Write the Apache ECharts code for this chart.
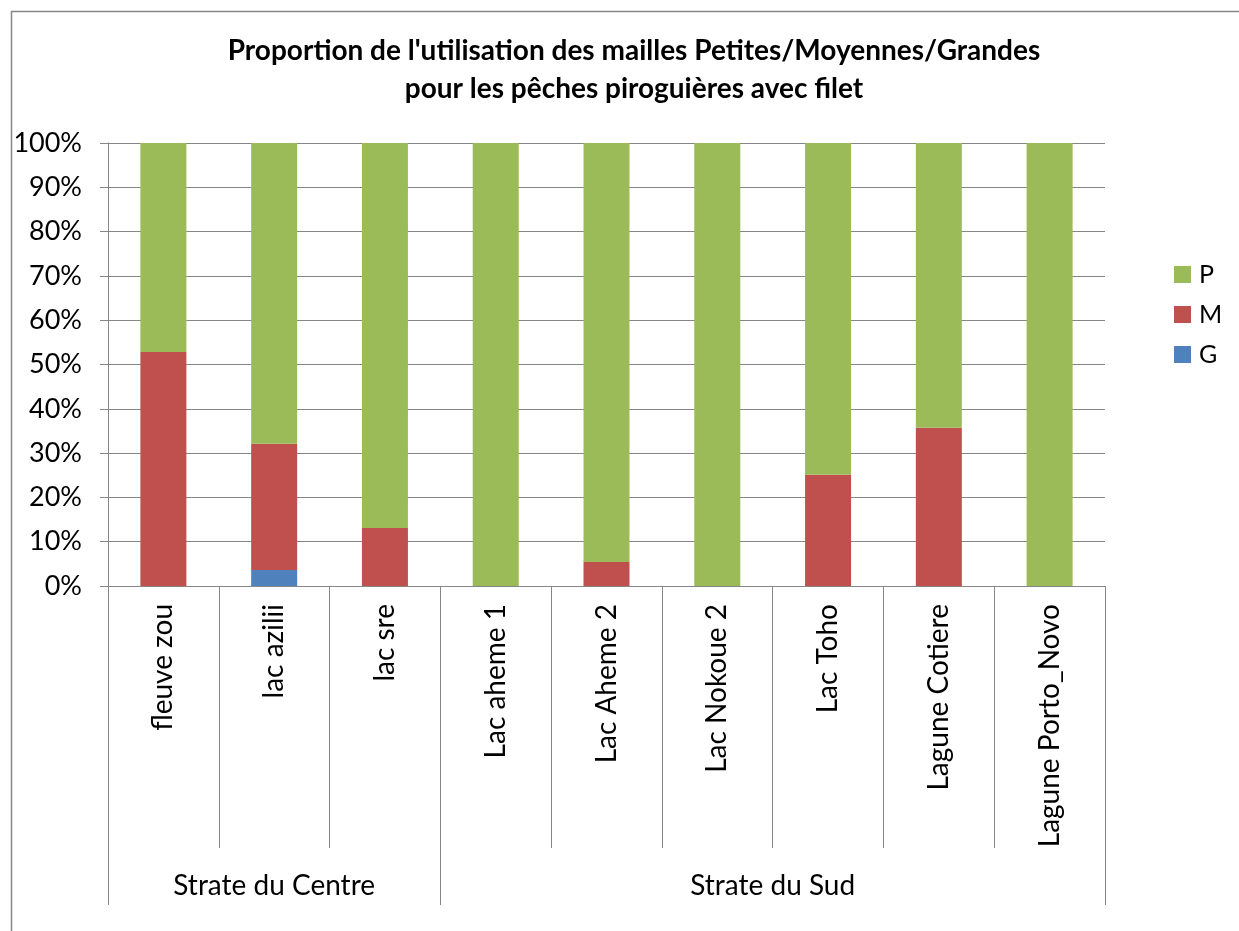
<!DOCTYPE html>
<html>
<head>
<meta charset="utf-8">
<script src="https://cdn.jsdelivr.net/npm/echarts@6/dist/echarts.min.js"></script>
<style>
  html, body { margin: 0; padding: 0; background: #fff; }
  #chart { width: 1239px; height: 931px; }
</style>
</head>
<body>
<div id="chart"></div>
<script>
var categories = ['fleuve zou', 'lac azilii', 'lac sre', 'Lac aheme 1', 'Lac Aheme 2', 'Lac Nokoue 2', 'Lac Toho', 'Lagune Cotiere', 'Lagune Porto_Novo'];
var valuesG = [0, 3.6, 0, 0, 0, 0, 0, 0, 0];
var valuesM = [52.8, 28.5, 13.1, 0, 5.4, 0, 25.1, 35.7, 0];
var valuesP = [47.2, 67.9, 86.9, 100, 94.6, 100, 74.9, 64.3, 100];
// groupes : 3 categories puis 6 (positions en demi-categories)
var groupNames = ['Strate du Centre', 'Strate du Sud'];
var groupLabelIdx = [3, 12];
var groupTickIdx = [0, 6, 18];

var gridColor = '#868686';
var font = 'Lato, "Noto Sans", sans-serif';

var halfSlots = [];
for (var i = 0; i <= 18; i++) {
    var k = groupLabelIdx.indexOf(i);
    halfSlots.push(k >= 0 ? groupNames[k] : '');
}

var myChart = echarts.init(document.getElementById('chart'));
var option = {
    animation: false,
    title: {
        text: "Proportion de l'utilisation des mailles Petites/Moyennes/Grandes\npour les pêches piroguières avec filet",
        left: 629,
        textAlign: 'center',
        top: 27,
        textStyle: {
            fontFamily: font,
            fontWeight: 'bold',
            fontSize: 28,
            lineHeight: 38,
            color: '#000'
        }
    },
    graphic: [{
        type: 'rect',
        shape: { x: 11.5, y: 11.5, width: 1300, height: 1000 },
        style: { fill: 'none', stroke: gridColor, lineWidth: 1.5 },
        silent: true
    }],
    legend: {
        orient: 'vertical',
        left: 1169,
        top: 257,
        itemWidth: 17,
        itemHeight: 17,
        itemGap: 15,
        icon: 'rect',
        data: ['P', 'M', 'G'],
        textStyle: { fontFamily: font, fontSize: 25, lineHeight: 17, color: '#000', padding: [0, 0, 0, 3] }
    },
    grid: {
        left: 108,
        right: 134,
        top: 143,
        bottom: 345
    },
    xAxis: [
        {
            type: 'category',
            data: categories,
            axisLine: { show: true, lineStyle: { color: gridColor } },
            axisTick: { show: true, length: 262, interval: 0, lineStyle: { color: gridColor } },
            axisLabel: {
                interval: 0,
                rotate: 90,
                margin: 18,
                fontFamily: font,
                fontSize: 28,
                color: '#000'
            }
        },
        {
            type: 'category',
            position: 'bottom',
            boundaryGap: false,
            data: halfSlots,
            axisLine: { show: false },
            axisTick: {
                show: true,
                length: 319,
                interval: function (idx) { return groupTickIdx.indexOf(idx) >= 0; },
                lineStyle: { color: gridColor }
            },
            axisLabel: {
                interval: function (idx) { return groupLabelIdx.indexOf(idx) >= 0; },
                margin: 286,
                fontFamily: font,
                fontSize: 28,
                color: '#000'
            }
        }
    ],
    yAxis: {
        type: 'value',
        min: 0,
        max: 100,
        interval: 10,
        axisLine: { show: true, lineStyle: { color: gridColor } },
        axisTick: { show: true, length: 8, lineStyle: { color: gridColor } },
        splitLine: { lineStyle: { color: gridColor, width: 1 } },
        axisLabel: {
            formatter: '{value}%',
            margin: 26,
            fontFamily: font,
            fontSize: 27,
            color: '#000'
        }
    },
    series: [
        {
            name: 'G',
            type: 'bar',
            stack: 'total',
            barWidth: 46,
            itemStyle: { color: '#4F81BD' },
            data: valuesG
        },
        {
            name: 'M',
            type: 'bar',
            stack: 'total',
            barWidth: 46,
            itemStyle: { color: '#C0504D' },
            data: valuesM
        },
        {
            name: 'P',
            type: 'bar',
            stack: 'total',
            barWidth: 46,
            itemStyle: { color: '#9BBB59' },
            data: valuesP
        }
    ]
};
myChart.setOption(option);
</script>
</body>
</html>
